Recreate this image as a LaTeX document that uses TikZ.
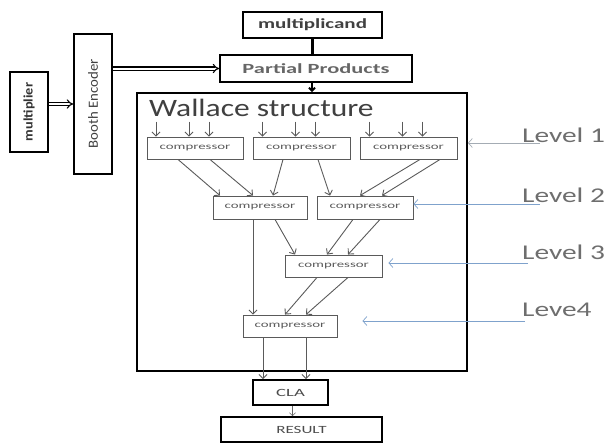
\documentclass[tikz,border=0pt]{standalone}
\usepackage{fontspec}
\setmainfont{Carlito}
\usetikzlibrary{arrows.meta}
\definecolor{lvgray}{HTML}{6E6E6E}
\definecolor{lvblue}{HTML}{7FA2CC}
\definecolor{lvline}{HTML}{A4ACB4}
\definecolor{cgray}{HTML}{5A5A5A}
\newcommand\hsc[2]{\scalebox{#1}[1]{#2}}
\tikzset{
  bigbox/.style={draw=black, line width=1.8pt, rectangle, inner sep=0pt},
  compbox/.style={draw=cgray, line width=0.9pt, rectangle, inner sep=0pt,
     minimum height=22pt, text=cgray, font=\fontsize{9}{10}\selectfont},
  conn/.style={draw=cgray, line width=0.9pt, -{Straight Barb[length=4pt,width=8pt]}},
  lvarrow/.style={line width=0.7pt, -{Straight Barb[length=4pt,width=9pt]}},
  lvtext/.style={anchor=west, text=lvgray, font=\fontsize{21}{24}\selectfont, inner sep=0pt}
}
\begin{document}
\begin{tikzpicture}[x=1pt,y=-1pt]
\useasboundingbox (0,0) rectangle (609,444);
% main boxes
\node[bigbox, minimum width=38pt, minimum height=80pt] (mult) at (29,112)
  {\rotatebox{90}{\fontsize{13}{14}\selectfont\bfseries\color{black!80}\hsc{1.1}{multiplier}}};
\node[bigbox, minimum width=38pt, minimum height=140pt] (booth) at (93,104)
  {\rotatebox{90}{\fontsize{14}{15}\selectfont\color{black!75}\hsc{1.06}{Booth Encoder}}};
\node[bigbox, minimum width=139pt, minimum height=26pt, font=\fontsize{14}{15}\selectfont\bfseries, text=black!75] (mcand) at (312.5,25) {\hsc{1.5}{multiplicand}};
\node[bigbox, minimum width=192pt, minimum height=27pt, font=\fontsize{14}{15}\selectfont\bfseries, text=black!60] (pp) at (316,68.5) {\hsc{1.6}{Partial Products}};
\node[bigbox, minimum width=330pt, minimum height=278pt] (wall) at (302,232) {};
\node[anchor=west, inner sep=0pt, text=black!75, font=\fontsize{25}{28}\selectfont] (wtitle) at (149,108) {\hsc{1.26}{Wallace structure}};
\node[bigbox, minimum width=75pt, minimum height=25pt, font=\fontsize{11}{12}\selectfont, text=black!70] (cla) at (290.5,392.5) {\hsc{1.7}{CLA}};
\node[bigbox, minimum width=161pt, minimum height=25pt, font=\fontsize{11}{12}\selectfont, text=black!70] (res) at (301.5,429.5) {\hsc{1.55}{RESULT}};
% compressors
\node[compbox, minimum width=96pt] (c1) at (195,148) {\hsc{1.65}{compressor}};
\node[compbox, minimum width=97pt] (c2) at (301.5,148) {\hsc{1.65}{compressor}};
\node[compbox, minimum width=97pt] (c3) at (408.5,148) {\hsc{1.65}{compressor}};
\node[compbox, minimum width=94pt, minimum height=23pt] (a) at (260,207.5) {\hsc{1.65}{compressor}};
\node[compbox, minimum width=96pt, minimum height=23pt] (b) at (365,207.5) {\hsc{1.65}{compressor}};
\node[compbox, minimum width=97pt] (l3) at (333.5,266) {\hsc{1.65}{compressor}};
\node[compbox, minimum width=94pt] (l4) at (290,326) {\hsc{1.65}{compressor}};
% top connectors
\draw[double=white, draw=black, double distance=2pt, line width=1.1pt, -{Implies}] ([yshift=8]mult.east) -- ([yshift=8]mult.east -| booth.west);
\draw[double=white, draw=black, double distance=2pt, line width=1.1pt, -{Implies}] (booth.east |- pp.west) -- (pp.west);
\draw[line width=3pt] (mcand.south) -- (mcand.south |- pp.north);
\draw[line width=2pt, -{Straight Barb[length=3pt,width=6pt]}] ([xshift=-4]pp.south) -- ([xshift=-4]pp.south |- wall.north);
% inputs to level 1
\foreach \n in {c1,c2,c3}{
  \foreach \s in {-39,-6,14}{
    \draw[conn] ([xshift=\s,yshift=15]\n.north) -- ([xshift=\s]\n.north);
  }
}
% level 1 -> level 2
\draw[conn] ([xshift=-17]c1.south) -- ([xshift=-40]a.north);
\draw[conn] ([xshift=15]c1.south) -- ([xshift=-7]a.north);
\draw[conn] ([xshift=-18.5]c2.south) -- ([xshift=13]a.north);
\draw[conn] ([xshift=16.5]c2.south) -- ([xshift=-35]b.north);
\draw[conn] ([xshift=11.5]c3.south) -- ([xshift=-5]b.north);
\draw[conn] ([xshift=31.5]c3.south) -- ([xshift=17]b.north);
% level 2 -> level 3 / 4
\draw[conn] ([xshift=-7]a.south) -- ([xshift=-7]a.south |- l4.north);
\draw[conn] ([xshift=15]a.south) -- ([xshift=-38.5]l3.north);
\draw[conn] ([xshift=-12]b.south) -- ([xshift=-6.5]l3.north);
\draw[conn] ([xshift=15]b.south) -- ([xshift=14.5]l3.north);
% level 3 -> level 4
\draw[conn] ([xshift=-16.5]l3.south) -- ([xshift=-5]l4.north);
\draw[conn] ([xshift=14.5]l3.south) -- ([xshift=16]l4.north);
% level 4 -> CLA
\draw[conn] ([xshift=-27]l4.south) -- ([xshift=-27]l4.south |- cla.north);
\draw[conn] ([xshift=16]l4.south) -- ([xshift=16]l4.south |- cla.north);
\draw[draw=black!60, line width=0.6pt, -{Straight Barb[length=3pt,width=6pt]}] ([xshift=2]cla.south) -- ([xshift=2]cla.south |- res.north);
% level labels
\node[lvtext] (lv1) at (522,135) {\hsc{1.4}{Level 1}};
\node[lvtext] (lv2) at (522,195) {\hsc{1.4}{Level 2}};
\node[lvtext] (lv3) at (522,252) {\hsc{1.4}{Level 3}};
\node[lvtext] (lv4) at (522,310) {\hsc{1.4}{Leve4}};
\coordinate (t1) at (540,143);
\coordinate (t2) at (540,204);
\coordinate (t3) at (528,263);
\coordinate (t4) at (525,321);
\draw[lvarrow, draw=lvline] (t1) -- (wall.east |- t1);
\draw[lvarrow, draw=lvblue] (t2) -- (b.east |- t2);
\draw[lvarrow, draw=lvblue] (t3) -- ([xshift=6]l3.east |- t3);
\draw[lvarrow, draw=lvblue] (t4) -- ([xshift=25]l4.east |- t4);
\end{tikzpicture}
\end{document}
